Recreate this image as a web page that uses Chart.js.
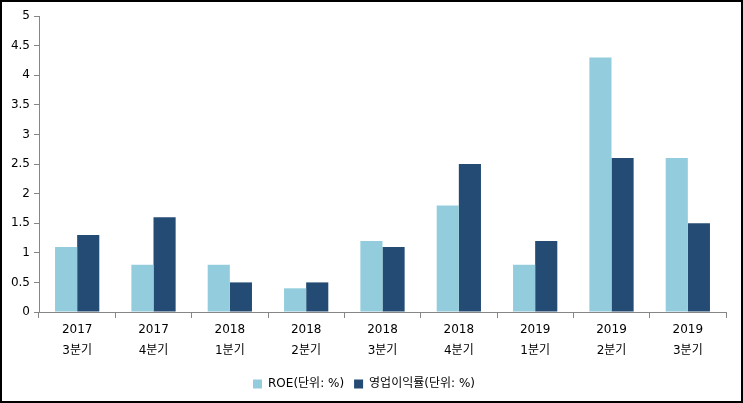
<!DOCTYPE html>
<html>
<head>
<meta charset="utf-8">
<script src="https://cdn.jsdelivr.net/npm/chart.js@4"></script>
<style>
  html, body { margin: 0; padding: 0; background: #fff; }
  #wrap { position: relative; width: 743px; height: 403px; box-sizing: border-box; border: 2px solid #000; }
</style>
</head>
<body>
<div id="wrap"><canvas id="chart" width="739" height="399"></canvas></div>
<script>
const years = ['2017', '2017', '2018', '2018', '2018', '2018', '2019', '2019', '2019'];
const quarters = ['3분기', '4분기', '1분기', '2분기', '3분기', '4분기', '1분기', '2분기', '3분기'];
const roe = [1.1, 0.8, 0.8, 0.4, 1.2, 1.8, 0.8, 4.3, 2.6];
const opMargin = [1.3, 1.6, 0.5, 0.5, 1.1, 2.5, 1.2, 2.6, 1.5];
const seriesNames = ['ROE(단위: %)', '영업이익률(단위: %)'];

Chart.defaults.color = '#000';
Chart.defaults.font.family = "'DejaVu Sans', 'Noto Sans CJK KR', sans-serif";
Chart.defaults.font.size = 11;

const labels = years.map((y, i) => [y, quarters[i]]);

const config = {
  type: 'bar',
  data: {
    labels: labels,
    datasets: [
      { label: seriesNames[0], data: roe, backgroundColor: '#93CDDD' },
      { label: seriesNames[1], data: opMargin, backgroundColor: '#244B73' }
    ]
  },
  options: {
    responsive: false,
    animation: false,
    layout: { padding: { top: 14, right: 15, bottom: 1, left: 0 } },
    datasets: { bar: { categoryPercentage: 0.58, barPercentage: 1 } },
    plugins: {
      tooltip: { enabled: false },
      legend: {
        position: 'bottom',
        labels: { boxWidth: 9, boxHeight: 9, padding: 10, font: { size: 12 } }
      }
    },
    scales: {
      x: {
        afterFit: (s) => { s.height += 6; },
        grid: { display: true, drawOnChartArea: false, tickLength: 6, color: '#868686' },
        border: { color: '#868686' },
        ticks: { padding: 1, font: { size: 12, lineHeight: 1.75 } }
      },
      y: {
        min: 0, max: 5,
        afterFit: (s) => { s.width = 37; },
        grid: { display: true, drawOnChartArea: false, tickLength: 5, color: '#868686' },
        border: { color: '#868686' },
        ticks: { stepSize: 0.5, padding: 4, font: { size: 12 }, callback: (v) => String(v) }
      }
    }
  }
};

new Chart(document.getElementById('chart'), config);
</script>
</body>
</html>
